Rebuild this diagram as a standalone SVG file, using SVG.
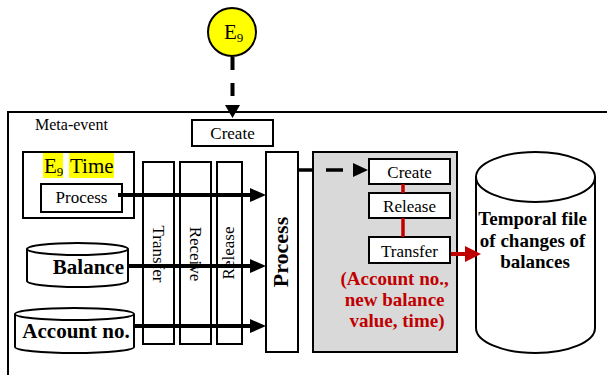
<svg xmlns="http://www.w3.org/2000/svg" width="607" height="375" viewBox="0 0 607 375">
  <style>
    .box { fill: #fff; stroke: #000; stroke-width: 2; }
    .t { font-family: "Liberation Serif", serif; }
    .bold { font-weight: bold; }
    .red { fill: #c00000; }
    .flow { stroke: #000; stroke-width: 4; fill: none; }
    .hl { fill: #ffff00; }
  </style>

  <rect width="607" height="375" fill="#fff"/>

  <g font-family="Liberation Serif, serif">

  <!-- meta-event frame, open to the right and bottom -->
  <g id="meta-event">
    <path d="M620,112 L8,112 L8,385" fill="none" stroke="#000" stroke-width="2"/>
    <text class="t" x="35" y="130" font-size="16">Meta-event</text>
  </g>

  <g id="e9">
    <circle cx="232" cy="32" r="24" fill="#ffff00" stroke="#000" stroke-width="2"/>
    <text class="t" x="224" y="39" font-size="21">E<tspan font-size="13" dy="3">9</tspan></text>
  </g>

  <g id="create-top">
    <rect class="box" x="192" y="120" width="81" height="26"/>
    <text class="t" x="232.5" y="139" font-size="17" text-anchor="middle">Create</text>
  </g>

  <g id="e9-time">
    <rect class="box" x="23" y="152" width="111" height="66"/>
    <rect class="hl" x="43" y="153" width="20" height="25"/>
    <rect class="hl" x="69" y="153" width="45" height="25"/>
    <text class="t" x="44" y="173" font-size="21">E<tspan font-size="13" dy="3">9</tspan></text>
    <text class="t" x="70" y="173" font-size="21">Time</text>
  </g>

  <g id="process-small">
    <rect class="box" x="41" y="184" width="81" height="28"/>
    <text class="t" x="81.5" y="203" font-size="17" text-anchor="middle">Process</text>
  </g>

  <g id="balance">
    <path d="M27,249 L27,281 A50.5,6 0 0 0 128,281 L128,249" class="box"/>
    <ellipse cx="77.5" cy="249" rx="50.5" ry="6" class="box"/>
    <text class="t bold" x="124" y="274" font-size="21" text-anchor="end">Balance</text>
  </g>

  <g id="account-no">
    <path d="M15,314 L15,347 A59.5,6 0 0 0 134,347 L134,314" class="box"/>
    <ellipse cx="74.5" cy="314" rx="59.5" ry="6" class="box"/>
    <text class="t bold" x="76" y="338" font-size="21" text-anchor="middle">Account no.</text>
  </g>

  <g id="transfer-bar">
    <rect class="box" x="143" y="162" width="31" height="182"/>
    <text class="t" transform="translate(153,254) rotate(90)" font-size="17" text-anchor="middle">Transfer</text>
  </g>

  <g id="receive-bar">
    <rect class="box" x="180" y="162" width="31" height="182"/>
    <text class="t" transform="translate(190,254) rotate(90)" font-size="17" text-anchor="middle">Receive</text>
  </g>

  <g id="release-bar">
    <rect class="box" x="217" y="162" width="25" height="182"/>
    <text class="t" transform="translate(234,253) rotate(-90)" font-size="17" text-anchor="middle">Release</text>
  </g>

  <g id="process-bar">
    <rect class="box" x="266" y="152" width="32" height="200"/>
    <text class="t bold" transform="translate(288,252) rotate(-90)" font-size="22" text-anchor="middle">Process</text>
  </g>

  <g id="update-box">
    <rect x="313" y="152" width="144" height="200" fill="#d9d9d9" stroke="#000" stroke-width="2"/>
    <text class="t bold red" font-size="19" text-anchor="middle">
      <tspan x="397" y="285">(Account no.,</tspan>
      <tspan x="397" y="306">new balance</tspan>
      <tspan x="397" y="327">value, time)</tspan>
    </text>
  </g>

  <g id="create-inner">
    <rect class="box" x="369" y="159" width="81" height="25"/>
    <text class="t" x="409.5" y="178" font-size="17" text-anchor="middle">Create</text>
  </g>

  <g id="release-inner">
    <rect class="box" x="369" y="193" width="81" height="25"/>
    <text class="t" x="409.5" y="212" font-size="17" text-anchor="middle">Release</text>
  </g>

  <g id="transfer-inner">
    <rect class="box" x="369" y="237" width="81" height="26"/>
    <text class="t" x="409.5" y="257" font-size="17" text-anchor="middle">Transfer</text>
  </g>

  <g id="temporal-file">
    <path d="M476,177 L476,328 A59.5,25 0 0 0 595,328 L595,177" class="box"/>
    <ellipse cx="535.5" cy="177" rx="59.5" ry="25" class="box"/>
    <text class="t bold" font-size="19" text-anchor="middle">
      <tspan x="535" y="225">Temporal file</tspan>
      <tspan x="535" y="247">of changes of</tspan>
      <tspan x="535" y="268">balances</tspan>
    </text>
  </g>

  </g>

  <g id="connectors">
    <!-- E9 triggers creation -->
    <path d="M232.5,57 L232.5,105" stroke="#000" stroke-width="4" stroke-dasharray="13,13"/>
    <path d="M225,105 L240,105 L232.5,118 Z" fill="#000"/>
    <!-- inputs to the process bar -->
    <line class="flow" x1="118" y1="195" x2="251" y2="195"/>
    <path d="M250,188 L266,195 L250,202 Z"/>
    <line class="flow" x1="128" y1="266" x2="251" y2="266"/>
    <path d="M250,259 L266,266 L250,273 Z"/>
    <line class="flow" x1="134" y1="326" x2="251" y2="326"/>
    <path d="M250,319 L266,326 L250,333 Z"/>
    <!-- process to create (dashed) -->
    <path d="M298,170 L314,170" stroke="#000" stroke-width="3.5"/>
    <path d="M326,170 L343,170" stroke="#000" stroke-width="3.5"/>
    <path d="M353,163 L368,170 L353,177 Z"/>
    <!-- lifecycle links -->
    <line x1="403" y1="184" x2="403" y2="193" stroke="#c00000" stroke-width="3.5"/>
    <line x1="403" y1="218" x2="403" y2="237" stroke="#c00000" stroke-width="3.5"/>
    <!-- transfer writes to temporal file -->
    <line x1="451" y1="254" x2="466" y2="254" stroke="#c00000" stroke-width="4"/>
    <path d="M465,246 L481,254 L465,262 Z" fill="#c00000"/>
  </g>
</svg>
